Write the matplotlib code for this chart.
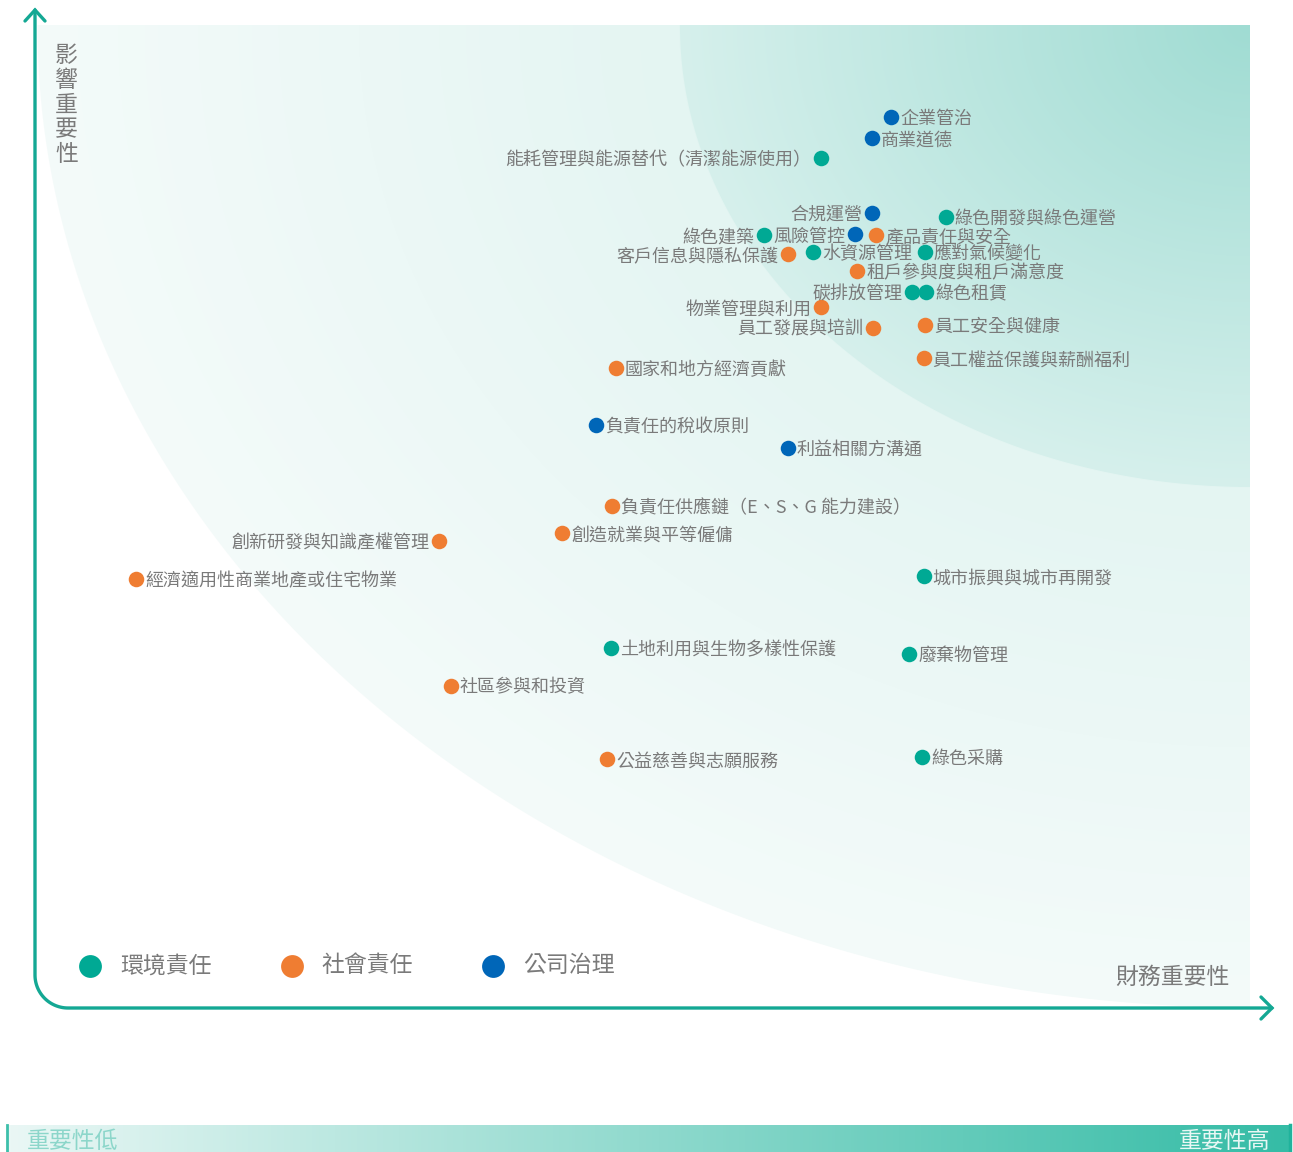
# ESG materiality matrix

# importing the libraries
import numpy as np
import matplotlib
matplotlib.use('Agg')
import matplotlib.pyplot as plt

plt.rcParams['font.family'] = ['Noto Sans CJK TC', 'DejaVu Sans']

# categories and colours
categories = ['環境責任', '社會責任', '公司治理']
colors = ['#00a994', '#ef7d32', '#0066b8']

# environment (x = financial importance, y = impact importance, 0-10)
env_names = ['能耗管理與能源替代（清潔能源使用）', '綠色建築', '水資源管理', '綠色開發與綠色運營',
             '應對氣候變化', '碳排放管理', '綠色租賃', '城市振興與城市再開發',
             '土地利用與生物多樣性保護', '廢棄物管理', '綠色采購']
env_x = [6.46, 5.99, 6.40, 7.49, 7.32, 7.21, 7.33, 7.31, 4.73, 7.19, 7.30]
env_y = [8.65, 7.86, 7.69, 8.05, 7.69, 7.28, 7.28, 4.39, 3.66, 3.60, 2.55]

# social
soc_names = ['產品責任與安全', '客戶信息與隱私保護', '租戶參與度與租戶滿意度', '物業管理與利用',
             '員工發展與培訓', '員工安全與健康', '員工權益保護與薪酬福利', '國家和地方經濟貢獻',
             '負責任供應鏈（E、S、G 能力建設）', '創造就業與平等僱傭', '創新研發與知識產權管理',
             '經濟適用性商業地產或住宅物業', '社區參與和投資', '公益慈善與志願服務']
soc_x = [6.92, 6.19, 6.76, 6.46, 6.89, 7.32, 7.31, 4.77, 4.74, 4.33, 3.31, 0.82, 3.41, 4.70]
soc_y = [7.86, 7.67, 7.50, 7.13, 6.92, 6.95, 6.61, 6.51, 5.11, 4.83, 4.75, 4.36, 3.28, 2.53]

# governance
gov_names = ['企業管治', '商業道德', '合規運營', '風險管控', '負責任的稅收原則', '利益相關方溝通']
gov_x = [7.04, 6.88, 6.88, 6.74, 4.61, 6.19]
gov_y = [9.06, 8.85, 8.09, 7.87, 5.93, 5.70]

# labels drawn on the left side of the dot
left_labels = {'能耗管理與能源替代（清潔能源使用）', '綠色建築', '碳排放管理', '客戶信息與隱私保護',
               '物業管理與利用', '員工發展與培訓', '創新研發與知識產權管理', '合規運營', '風險管控'}

# figure, data axes mapped onto the picture
W, H = 1293, 1152
sx, sy = 121.3, 98.3          # pixels per unit
ox, oy = 37, 1008             # pixel of (0, 0)
fig = plt.figure(figsize=(W / 100, H / 100), dpi=100)
ax = fig.add_axes([0, 0, 1, 1])
ax.set_xlim(-ox / sx, (W - ox) / sx)
ax.set_ylim(-(H - oy) / sy, oy / sy)
ax.axis('off')

# background: two quarter circles around the top right corner
gx, gy = np.meshgrid(np.linspace(0, 10, 1213), np.linspace(0, 10, 983))
r = np.hypot(10 - gx, 10 - gy)
r_in = 4.7
dark0, dark1 = np.array([160, 220, 211]), np.array([214, 240, 236])
lite0, lite1 = np.array([228, 245, 242]), np.array([244, 251, 250])
t_d = np.clip(r / r_in, 0, 1)[..., None]
t_l = np.clip((r - r_in) / (10 - r_in), 0, 1)[..., None]
col_d = dark0 + (dark1 - dark0) * t_d
col_l = lite0 + (lite1 - lite0) * t_l
m = np.clip((r_in - r) * 110 + 0.5, 0, 1)[..., None]
rgb = (col_d * m + col_l * (1 - m)) / 255
alpha = np.clip((10 - r) * 110 + 0.5, 0, 1)[..., None]
ax.imshow(np.concatenate([rgb, alpha], axis=2), extent=(0, 10, 0, 10), origin='lower',
          aspect='auto', interpolation='bilinear', zorder=0)

# points and labels
groups = [(env_names, env_x, env_y), (soc_names, soc_x, soc_y), (gov_names, gov_x, gov_y)]
for (names, xs, ys), c in zip(groups, colors):
    ax.scatter(xs, ys, s=125, color=c, zorder=3, linewidths=0)
    for n, x, y in zip(names, xs, ys):
        if n in left_labels:
            ax.annotate(n, (x, y), xytext=(-6.5, -1.5), textcoords='offset points',
                        ha='right', va='center', fontsize=13, color='#7a7a7a', zorder=4)
        else:
            ax.annotate(n, (x, y), xytext=(6.5, -1.5), textcoords='offset points',
                        ha='left', va='center', fontsize=13, color='#7a7a7a', zorder=4)

# decoration layer in pixels
dax = fig.add_axes([0, 0, 1, 1], zorder=2)
dax.set_xlim(0, W)
dax.set_ylim(H, 0)
dax.axis('off')
dax.patch.set_alpha(0)

teal = '#14a894'
t = np.linspace(np.pi, np.pi / 2, 30)
px = np.concatenate([[35], 68 + 33 * np.cos(t), [1272]])
py = np.concatenate([[10], 975 + 33 * np.sin(t), [1008]])
dax.plot(px, py, color=teal, lw=2.4, solid_capstyle='round')
dax.plot([25, 35, 45], [21, 10, 21], color=teal, lw=2.4, solid_capstyle='round', solid_joinstyle='miter')
dax.plot([1261, 1272, 1261], [997, 1008, 1019], color=teal, lw=2.4, solid_capstyle='round', solid_joinstyle='miter')

dax.text(55, 44, '\n'.join('影響重要性'), ha='left', va='top', fontsize=16.5,
         color='#7a7a7a', linespacing=1.1)
dax.text(1230, 977, '財務重要性', ha='right', va='center', fontsize=16.5, color='#7a7a7a')

# legend
for i, (cat, c) in enumerate(zip(categories, colors)):
    lx = 90 + i * 201.5
    dax.scatter([lx], [966], s=270, color=c, linewidths=0)
    dax.text(lx + 30, 966, cat, ha='left', va='center', fontsize=16.5, color='#7a7a7a')

# bottom importance bar
c0, c1 = np.array([234, 247, 245]), np.array([53, 188, 166])
bar = (c0 + (c1 - c0) * np.linspace(0, 1, 400)[:, None]) / 255
dax.imshow(bar[None, :, :], extent=(8, 1290, 1152, 1125), aspect='auto', zorder=1)
dax.plot([7, 7], [1125, 1152], color='#3dbfaa', lw=2, zorder=2)
dax.plot([1290, 1290], [1125, 1152], color='#20b39c', lw=2.5, zorder=2)
dax.text(27, 1141, '重要性低', ha='left', va='center', fontsize=16.5, color='#8cd6ca', zorder=3)
dax.text(1270, 1141, '重要性高', ha='right', va='center', fontsize=16.5, color='#e8f7f4', zorder=3)
dax.set_xlim(0, W)
dax.set_ylim(H, 0)

fig.savefig('out.png', dpi=100)
